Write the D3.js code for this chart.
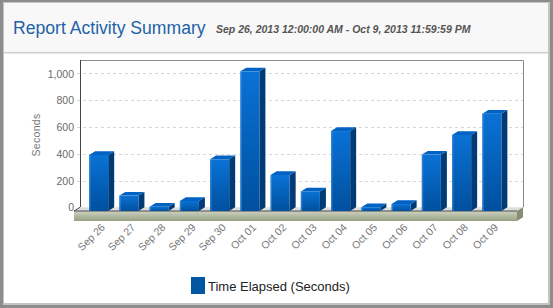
<!DOCTYPE html>
<html><head><meta charset="utf-8">
<script src="https://cdn.jsdelivr.net/npm/d3@7"></script>
<style>body{margin:0;padding:0;overflow:hidden;background:#fff}svg{display:block}</style>
</head><body>
<script>
const categories = ["Sep 26","Sep 27","Sep 28","Sep 29","Sep 30","Oct 01","Oct 02","Oct 03","Oct 04","Oct 05","Oct 06","Oct 07","Oct 08","Oct 09"];
const timeElapsed = [419, 115, 32, 75, 386, 1043, 269, 146, 597, 28, 52, 421, 568, 727];
const yTicks = [0, 200, 400, 600, 800, 1000];
const seriesName = "Time Elapsed (Seconds)";
const titleText = "Report Activity Summary";
const subtitleText = "Sep 26, 2013 12:00:00 AM - Oct 9, 2013 11:59:59 PM";
const yAxisTitle = "Seconds";

(function(){
const W = 553, H = 308;
const FONT = "'Liberation Sans', Arial, sans-serif";
const svg = d3.select("body").append("svg").attr("width", W).attr("height", H);
const defs = svg.append("defs");

// frame
svg.append("rect").attr("x",0).attr("y",0).attr("width",W).attr("height",H).attr("fill","#8c8c8c");
svg.append("rect").attr("x",3).attr("y",2).attr("width",547).attr("height",303).attr("fill","#c4c4c4");
svg.append("rect").attr("x",4).attr("y",3).attr("width",544).attr("height",300).attr("fill","#ffffff");
// header
svg.append("rect").attr("x",4).attr("y",3).attr("width",544).attr("height",49).attr("fill","#f8f8f8");
svg.append("rect").attr("x",4).attr("y",52).attr("width",544).attr("height",1.5).attr("fill","#cfcfcf");
svg.append("text").attr("x",13).attr("y",34).attr("font-family",FONT).attr("font-size",17.6)
  .attr("fill","#1f62a6").text(titleText);
svg.append("text").attr("x",216).attr("y",33).attr("font-family",FONT).attr("font-size",10.5)
  .attr("font-weight","bold").attr("font-style","italic").attr("fill","#555").text(subtitleText);

// geometry
const dx = 6, dy = 3.7;
const backLeft = 80, backRight = 523, plotTop = 60;
const y = d3.scaleLinear().domain([0, 1100]).range([207.3, plotTop]);
const x = d3.scaleBand().domain(categories).range([backLeft - dx, backRight - dx - 0.5])
  .paddingInner(0.37).paddingOuter(0.5);

// gridlines
const g = svg.append("g");
g.selectAll("line.grid").data(yTicks.filter(t => t > 0)).join("line")
  .attr("x1", backLeft - 3).attr("x2", backRight).attr("y1", d => Math.round(y(d)) + 0.5).attr("y2", d => Math.round(y(d)) + 0.5)
  .attr("stroke", "#d6d6d6").attr("stroke-dasharray", "3,3");
// plot border
g.append("path").attr("d", `M${backLeft},${plotTop + 0.5}H${backRight + 0.5}V${y(0)}`).attr("fill","none").attr("stroke","#8a8a8a");
g.append("line").attr("x1", backLeft + 0.5).attr("x2", backLeft + 0.5).attr("y1", plotTop).attr("y2", y(0))
  .attr("stroke", "#444");

// y axis via d3
const yAxis = d3.axisLeft(y).tickValues(yTicks).tickSize(0).tickPadding(0).tickFormat(d3.format(","));
const ya = svg.append("g").attr("transform", `translate(${backLeft - 6},0)`).call(yAxis);
ya.select(".domain").remove();
ya.selectAll("text").attr("font-family", FONT).attr("font-size", 10.5).attr("fill", "#6a6a6a").attr("dy", "0.35em");

svg.append("text").attr("transform", "translate(40,135) rotate(-90)").attr("text-anchor","middle")
  .attr("font-family", FONT).attr("font-size", 10.5).attr("fill", "#777").attr("letter-spacing", 0.3).text(yAxisTitle);

// floor
const y0 = y(0);
const fl = backLeft - dx, fr = backRight - dx;
svg.append("path").attr("d", `M${backLeft},${y0}L${backRight},${y0}L${fr},${y0+dy}L${fl},${y0+dy}Z`).attr("fill", "#dedede");
const slabGrad = defs.append("linearGradient").attr("id","slab").attr("x1",0).attr("y1",0).attr("x2",0).attr("y2",1);
slabGrad.append("stop").attr("offset","0%").attr("stop-color","#cfd3c1");
slabGrad.append("stop").attr("offset","100%").attr("stop-color","#96a084");
svg.append("rect").attr("x", fl).attr("y", y0 + dy).attr("width", fr - fl).attr("height", 10).attr("fill","url(#slab)");
svg.append("path").attr("d", `M${fr},${y0+dy}L${backRight},${y0}L${backRight},${y0+10}L${fr},${y0+dy+10}Z`).attr("fill","#858e72");
svg.append("line").attr("x1", fl).attr("x2", fr).attr("y1", y0 + dy).attr("y2", y0 + dy).attr("stroke","#4a4a4a").attr("stroke-width",1);
svg.append("line").attr("x1", backLeft).attr("y1", y0).attr("x2", fl).attr("y2", y0 + dy).attr("stroke","#444");

// bars
const fg = defs.append("linearGradient").attr("id","front").attr("x1",0).attr("y1",0).attr("x2",0).attr("y2",1);
fg.append("stop").attr("offset","0%").attr("stop-color","#0a72d6");
fg.append("stop").attr("offset","100%").attr("stop-color","#00509e");
const bw = x.bandwidth();
const bars = svg.append("g").selectAll("g").data(categories.map((c, i) => ({c, v: timeElapsed[i]}))).join("g");
bars.append("path").attr("fill", "#003b76")
  .attr("d", d => { const x0 = x(d.c) + bw; const yt = y(d.v) + dy; const yb = y0 + dy;
    return `M${x0},${yt}L${x0+dx},${yt-dy}L${x0+dx},${yb-dy}L${x0},${yb}Z`; });
bars.append("path").attr("fill", "#0062c2")
  .attr("d", d => { const x0 = x(d.c); const yt = y(d.v) + dy;
    return `M${x0},${yt}L${x0+dx},${yt-dy}L${x0+bw+dx},${yt-dy}L${x0+bw},${yt}Z`; });
bars.append("rect").attr("x", d => x(d.c)).attr("y", d => y(d.v) + dy).attr("width", bw)
  .attr("height", d => y0 - y(d.v)).attr("fill", "url(#front)");
bars.append("rect").attr("x", d => x(d.c)).attr("y", d => y(d.v) + dy).attr("width", 1.5)
  .attr("height", d => y0 - y(d.v)).attr("fill", "#3a8ee0").attr("opacity", 0.6);

// x axis labels
const xAxis = d3.axisBottom(x).tickSize(0).tickPadding(0);
const xa = svg.append("g").attr("transform", `translate(0,${y0 + dy + 13})`).call(xAxis);
xa.select(".domain").remove();
xa.selectAll("text").attr("font-family", FONT).attr("font-size", 10.5).attr("fill", "#777")
  .attr("text-anchor", "end").attr("dy", 0).attr("transform", "translate(7,4) rotate(-45)");

// legend
svg.append("rect").attr("x", 191).attr("y", 277).attr("width", 14).attr("height", 17).attr("fill", "#0056a0");
svg.append("text").attr("x", 208).attr("y", 291).attr("font-family", FONT).attr("font-size", 13)
  .attr("fill", "#222").text(seriesName);
})();
</script>
</body></html>
